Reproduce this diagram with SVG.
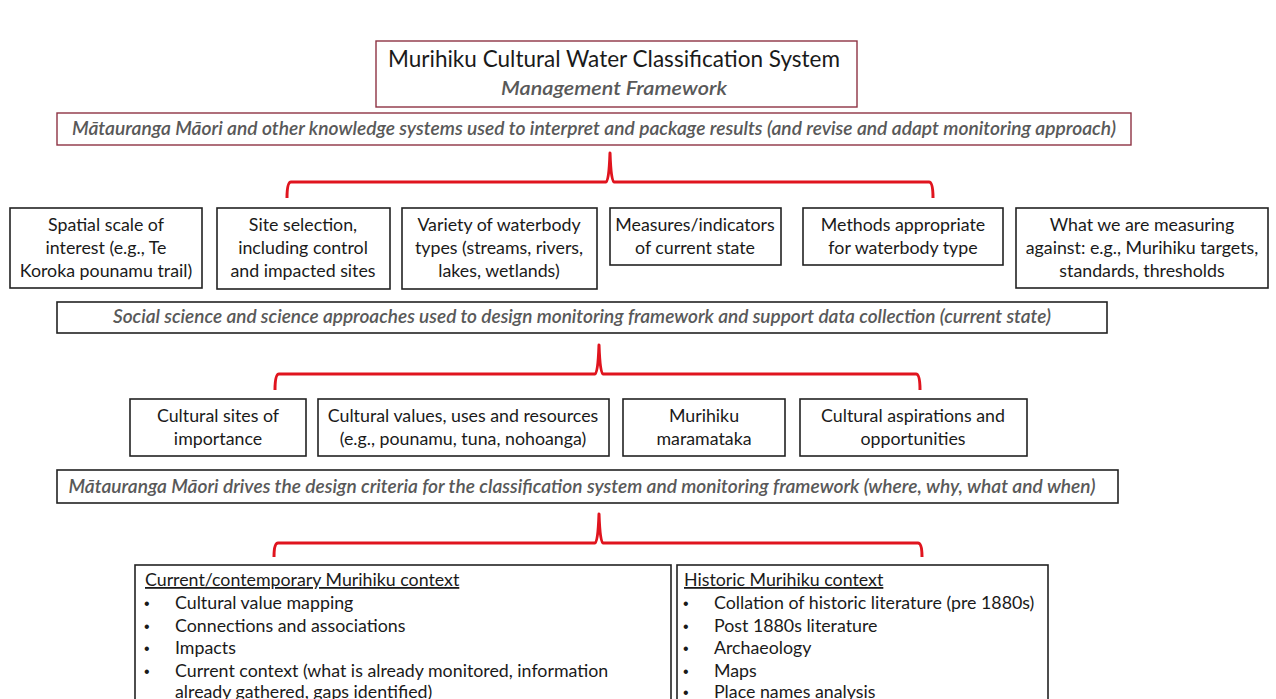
<svg xmlns="http://www.w3.org/2000/svg" width="1276" height="699" viewBox="0 0 1276 699">
<style>
  .box{fill:#fff;stroke:#222;stroke-width:1.6}
  .rbox{fill:#fff;stroke:#8e3343;stroke-width:1.4}
  .t{font-family:Lato,"Liberation Sans",sans-serif;font-size:17.8px;fill:#1a1a1a;text-anchor:middle}
  .it{font-family:Lato,"Liberation Sans",sans-serif;font-size:19px;font-style:italic;font-weight:600;fill:#595959;text-anchor:middle}
  .l{font-family:Lato,"Liberation Sans",sans-serif;font-size:17.8px;fill:#1a1a1a}
  .bu{font-family:"Liberation Sans",sans-serif;font-size:16px;fill:#1a1a1a}
  .br{fill:none;stroke:#e0141e;stroke-width:3;stroke-linejoin:round}
</style>
<rect width="1276" height="699" fill="#fff"/>
<g id="title">
  <rect class="rbox" x="376" y="41" width="481" height="66"/>
  <text class="t" x="614" y="67" style="font-size:22.5px" textLength="452" lengthAdjust="spacingAndGlyphs">Murihiku Cultural Water Classification System</text>
  <text class="it" x="614" y="95" style="font-size:19px" textLength="226" lengthAdjust="spacingAndGlyphs">Management  Framework</text>
</g>
<g id="knowledge">
  <rect class="rbox" x="57" y="113" width="1074" height="32"/>
  <text class="it" x="594" y="135" textLength="1044" lengthAdjust="spacingAndGlyphs">Mātauranga Māori and other knowledge systems used to interpret and package results (and revise and adapt monitoring approach)</text>
</g>
<g id="spatial">
  <rect class="box" x="10" y="208" width="192" height="80"/>
  <text class="t" x="106" y="231">Spatial scale of</text>
  <text class="t" x="106" y="254">interest (e.g., Te</text>
  <text class="t" x="106" y="277">Koroka pounamu trail)</text>
</g>
<g id="site">
  <rect class="box" x="217" y="208" width="173" height="81"/>
  <text class="t" x="303" y="231">Site selection,</text>
  <text class="t" x="303" y="254">including control</text>
  <text class="t" x="303" y="277">and impacted sites</text>
</g>
<g id="variety">
  <rect class="box" x="402" y="208" width="195" height="81"/>
  <text class="t" x="499" y="231">Variety of waterbody</text>
  <text class="t" x="499" y="254">types (streams, rivers,</text>
  <text class="t" x="499" y="277">lakes, wetlands)</text>
</g>
<g id="measures">
  <rect class="box" x="610" y="208" width="171" height="57"/>
  <text class="t" x="695" y="231">Measures/indicators</text>
  <text class="t" x="695" y="254">of current state</text>
</g>
<g id="methods">
  <rect class="box" x="803" y="208" width="200" height="57"/>
  <text class="t" x="903" y="231">Methods appropriate</text>
  <text class="t" x="903" y="254">for waterbody type</text>
</g>
<g id="against">
  <rect class="box" x="1016" y="208" width="252" height="80"/>
  <text class="t" x="1142" y="231">What we are measuring</text>
  <text class="t" x="1142" y="254">against: e.g., Murihiku targets,</text>
  <text class="t" x="1142" y="277">standards, thresholds</text>
</g>
<g id="social">
  <rect class="box" x="57" y="302" width="1050" height="31"/>
  <text class="it" x="582" y="323" textLength="938" lengthAdjust="spacingAndGlyphs">Social science and science approaches used to design monitoring framework and support data collection (current state)</text>
</g>
<g id="sites">
  <rect class="box" x="130" y="399" width="176" height="57"/>
  <text class="t" x="218" y="422">Cultural sites of</text>
  <text class="t" x="218" y="445">importance</text>
</g>
<g id="values">
  <rect class="box" x="318" y="399" width="291" height="57"/>
  <text class="t" x="463" y="422">Cultural values, uses and resources</text>
  <text class="t" x="463" y="445">(e.g., pounamu, tuna, nohoanga)</text>
</g>
<g id="maramataka">
  <rect class="box" x="623" y="399" width="162" height="57"/>
  <text class="t" x="704" y="422">Murihiku</text>
  <text class="t" x="704" y="445">maramataka</text>
</g>
<g id="aspirations">
  <rect class="box" x="800" y="399" width="227" height="57"/>
  <text class="t" x="913" y="422">Cultural aspirations and</text>
  <text class="t" x="913" y="445">opportunities</text>
</g>
<g id="drives">
  <rect class="box" x="57" y="470" width="1061" height="33"/>
  <text class="it" x="582" y="493" textLength="1027" lengthAdjust="spacingAndGlyphs">Mātauranga Māori drives the design criteria for the classification system and monitoring framework (where, why, what and when)</text>
</g>
<g id="current">
  <rect class="box" x="135" y="565" width="536" height="150"/>
  <text class="l" x="145" y="586" text-decoration="underline">Current/contemporary Murihiku context</text>
  <text class="bu" x="144" y="609">•</text><text class="l" x="175" y="609">Cultural value mapping</text>
  <text class="bu" x="144" y="632">•</text><text class="l" x="175" y="632">Connections and associations</text>
  <text class="bu" x="144" y="654">•</text><text class="l" x="175" y="654">Impacts</text>
  <text class="bu" x="144" y="677">•</text><text class="l" x="175" y="677">Current context (what is already monitored, information</text>
  <text class="l" x="175" y="698">already gathered, gaps identified)</text>
</g>
<g id="historic">
  <rect class="box" x="677" y="565" width="371" height="150"/>
  <text class="l" x="684" y="586" text-decoration="underline">Historic Murihiku context</text>
  <text class="bu" x="683" y="609">•</text><text class="l" x="714" y="609">Collation of historic literature (pre 1880s)</text>
  <text class="bu" x="683" y="632">•</text><text class="l" x="714" y="632">Post 1880s literature</text>
  <text class="bu" x="683" y="654">•</text><text class="l" x="714" y="654">Archaeology</text>
  <text class="bu" x="683" y="677">•</text><text class="l" x="714" y="677">Maps</text>
  <text class="bu" x="683" y="698">•</text><text class="l" x="714" y="698">Place names analysis</text>
</g>
<g id="connectors">
  <path class="br" d="M287,198 Q287,182 291,182 L606,182 Q609,182 610,153 Q611,182 614,182 L929,182 Q933,182 933,198"/>
  <path class="br" d="M275,390 Q275,374 279,374 L595,374 Q598,374 599,345 Q600,374 603,374 L916,374 Q920,374 920,390"/>
  <path class="br" d="M274,557 Q274,543 278,543 L595,543 Q598,543 599,514 Q600,543 603,543 L918,543 Q922,543 922,557"/>
</g>
</svg>
